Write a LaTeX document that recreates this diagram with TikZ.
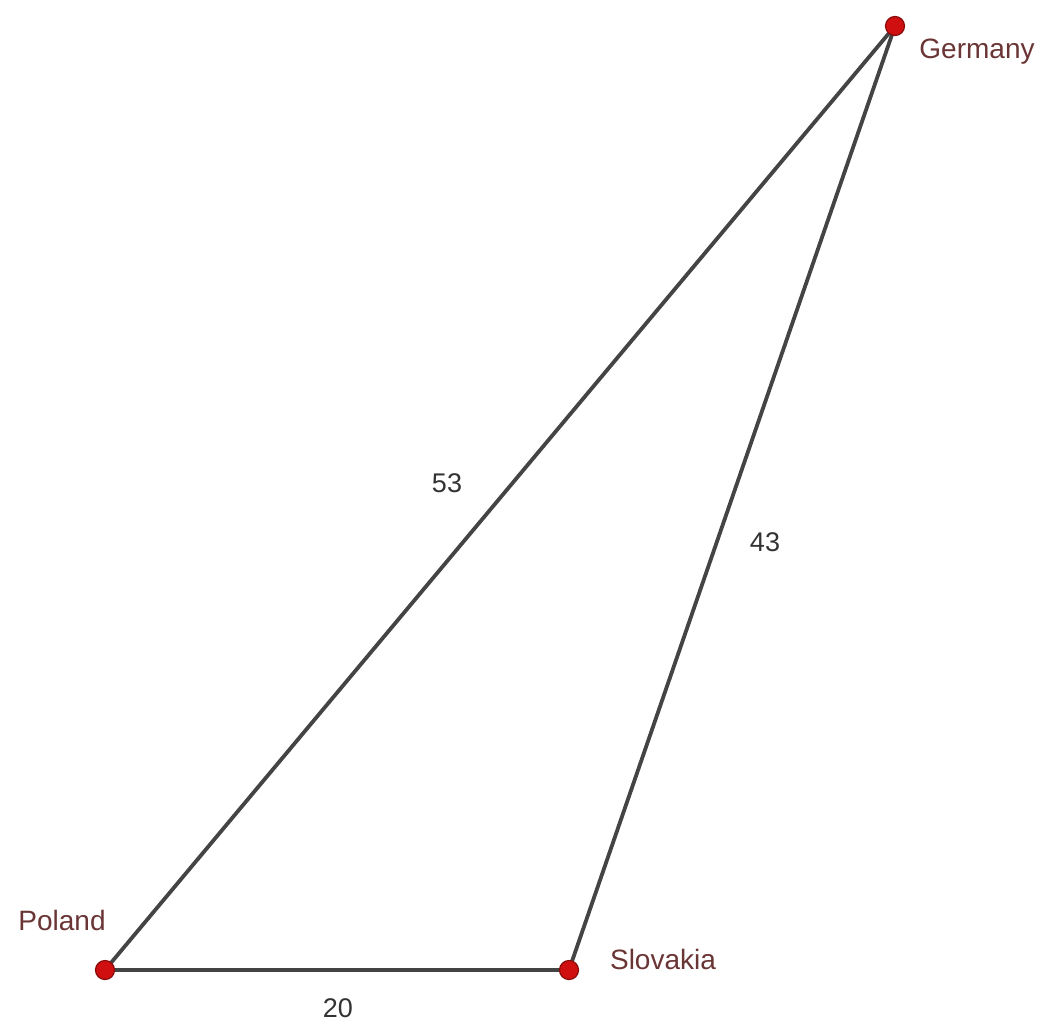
\documentclass[tikz,border=0pt]{standalone}
\usepackage{fontspec}
\setmainfont{Liberation Sans}
\definecolor{edgecol}{HTML}{444444}
\definecolor{ptfill}{HTML}{D01010}
\definecolor{ptdraw}{HTML}{8A0A0A}
\definecolor{lblcol}{HTML}{6A3535}
\definecolor{numcol}{HTML}{333333}
\begin{document}
\begin{tikzpicture}[x=1pt,y=-1pt,
  pt/.style={circle,fill=ptfill,draw=ptdraw,line width=1.2pt,minimum size=19pt,inner sep=0pt},
  ptlabel/.style={text=lblcol,font=\fontsize{28}{32}\selectfont,inner sep=0pt},
  numlabel/.style={text=numcol,font=\fontsize{27}{31}\selectfont,inner sep=0pt},
  edge/.style={draw=edgecol,line width=3.8pt}]
\useasboundingbox (0,0) rectangle (1047,1023);
\fill[white] (0,0) rectangle (1047,1023);
\coordinate (G) at (895,26);
\coordinate (P) at (105,970);
\coordinate (S) at (569,970);
\draw[edge] (P) -- (G);
\draw[edge] (S) -- (G);
\draw[edge] (P) -- (S);
\node[pt] (g) at (G) {};
\node[pt] (p) at (P) {};
\node[pt] (s) at (S) {};
\node[ptlabel] (gl) at (977,52) {Germany};
\node[ptlabel] (pl) at (62,920) {Poland};
\node[ptlabel] (sl) at (663,959) {Slovakia};
\node[numlabel] (l53) at (447,483) {53};
\node[numlabel] (l43) at (765,542) {43};
\node[numlabel] (l20) at (338,1008) {20};
\end{tikzpicture}
\end{document}
